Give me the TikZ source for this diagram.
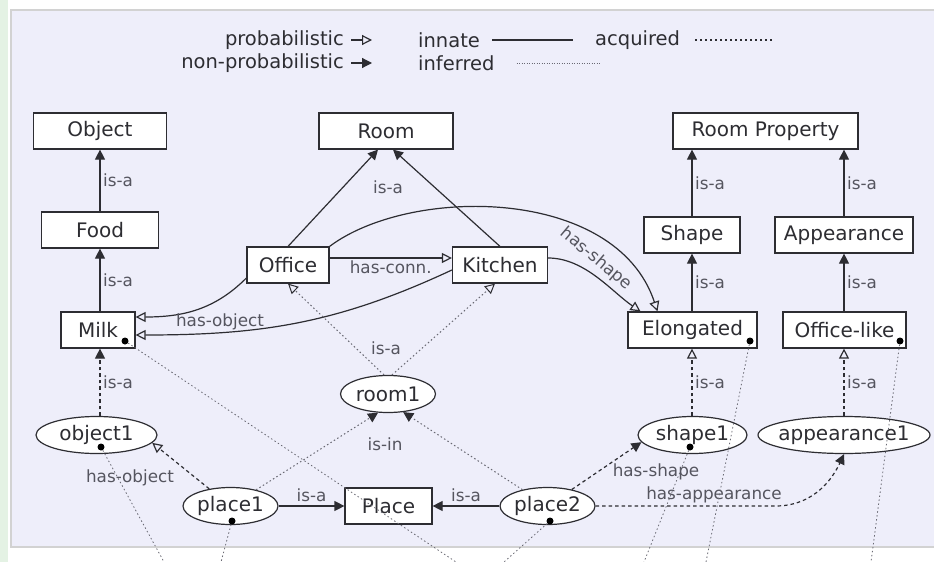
\documentclass[tikz,border=0pt]{standalone}
\usepackage{fontspec}
\setmainfont{DejaVu Sans}
\usetikzlibrary{arrows.meta,shapes.geometric}
\definecolor{panel}{RGB}{238,238,250}
\definecolor{strip}{RGB}{228,242,228}
\definecolor{ink}{RGB}{45,45,50}
\definecolor{lblc}{RGB}{85,85,95}
\definecolor{pinc}{RGB}{105,105,115}
\pgfdeclarelayer{panel}
\pgfsetlayers{panel,main}
\newcommand{\zw}[1]{\makebox[0pt]{#1}}
\begin{document}
\begin{tikzpicture}[x=1pt,y=-1pt,
  every node/.style={text=ink},
  nodefont/.style={font=\fontsize{20}{24}\selectfont},
  box/.style={draw=ink, line width=1.2pt, fill=white, minimum height=36pt, inner sep=0pt, nodefont},
  ell/.style={ellipse, draw=ink, line width=1.2pt, fill=white, minimum height=37pt, inner sep=0pt, nodefont},
  lbl/.style={font=\fontsize{16.8}{20}\selectfont, text=lblc, inner sep=1.5pt},
  leg/.style={font=\fontsize{19.5}{23}\selectfont, inner sep=0pt},
  edge/.style={draw=ink, line width=1.2pt},
  fil/.style={-{Triangle[length=10pt,width=10pt,color=ink]}},
  hol/.style={-{Triangle[open,length=10pt,width=10pt,color=ink]}},
  innate/.style={edge},
  acquired/.style={edge, dash pattern=on 3.5pt off 3pt},
  inferred/.style={draw=pinc, line width=1pt, dash pattern=on 1.5pt off 2.5pt},
  legacq/.style={draw=ink, line width=1.2pt, dash pattern=on 2pt off 3pt},
  leginf/.style={draw=pinc, line width=0.8pt, dash pattern=on 1pt off 1.5pt},
  pinline/.style={draw=pinc, line width=0.8pt, dash pattern=on 1.5pt off 2.5pt},
  pindot/.style={circle, fill=black, inner sep=0pt, minimum size=7pt},
]
\useasboundingbox (0,0) rectangle (934,562);
\begin{pgfonlayer}{panel}
  \fill[white] (0,0) rectangle (934,562);
  \fill[strip] (0,0) rectangle (8,562);
  \draw[draw=gray!35, fill=panel, line width=1.5pt] (11,10) rectangle (940,547);
\end{pgfonlayer}

% legend
\node[leg, anchor=east] (lprob) at (344,40) {probabilistic};
\node[leg, anchor=east] (lnonprob) at (344,63) {non-probabilistic};
\node[leg, anchor=west] (linnate) at (418,40) {innate};
\node[leg, anchor=west] (linf) at (418,63) {inferred};
\node[leg, anchor=west] (lacq) at (595,40) {acquired};
\draw[innate,hol] ([xshift=7pt]lprob.east) -- ++(21pt,0);
\draw[innate,fil] ([xshift=7pt]lnonprob.east) -- ++(21pt,0);
\draw[innate] ([xshift=12pt]linnate.east) -- ++(81pt,0);
\draw[leginf] ([xshift=22pt]linf.east) -- ++(83pt,0);
\draw[legacq] ([xshift=15pt]lacq.east) -- ++(79pt,0);

% class nodes
\node[box, minimum width=133pt] (object) at (100,131) {Object};
\node[box, minimum width=117pt] (food) at (100,230) {Food};
\node[box, minimum width=74pt] (milk) at (98,330) {Milk};
\node[box, minimum width=134pt] (room) at (386,131) {Room};
\node[box, minimum width=82pt] (office) at (288,265) {Office};
\node[box, minimum width=95pt] (kitchen) at (500,265) {Kitchen};
\node[box, minimum width=185pt] (roomprop) at (765.5,131) {Room Property};
\node[box, minimum width=96pt] (shape) at (692,235) {Shape};
\node[box, minimum width=138pt] (appearance) at (844,235) {Appearance};
\node[box, minimum width=129pt] (elongated) at (692.5,330) {Elongated};
\node[box, minimum width=123pt] (officelike) at (844.5,330) {Office-like};
\node[box, minimum width=87pt] (place) at (388.5,506) {Place};

% instance nodes
\node[ell, minimum width=95pt] (room1) at (388,394) {\zw{room1}};
\node[ell, minimum width=121pt] (object1) at (96.5,435) {\zw{object1}};
\node[ell, minimum width=95pt] (place1) at (230.5,506) {\zw{place1}};
\node[ell, minimum width=95pt] (place2) at (547.5,506) {\zw{place2}};
\node[ell, minimum width=109pt] (shape1) at (692.5,435) {\zw{shape1}};
\node[ell, minimum width=172pt] (appearance1) at (844,435) {\zw{appearance1}};

% innate is-a
\draw[innate,fil] (food) -- (object) node[lbl,midway,right=1pt]{is-a};
\draw[innate,fil] (milk.north -| food.south) -- (food.south) node[lbl,midway,right=1pt]{is-a};
\draw[innate,fil] (office.north) -- ([xshift=-8pt]room.south);
\draw[innate,fil] (kitchen.north) -- ([xshift=7pt]room.south);
\node[lbl] (lroom) at (388,187) {is-a};
\draw[innate,fil] (shape.north) -- (shape.north |- roomprop.south) node[lbl,midway,right=1pt]{is-a};
\draw[innate,fil] (appearance.north) -- (appearance.north |- roomprop.south) node[lbl,midway,right=1pt]{is-a};
\draw[innate,fil] (elongated.north -| shape.south) -- (shape.south) node[lbl,midway,right=1pt]{is-a};
\draw[innate,fil] (officelike.north -| appearance.south) -- (appearance.south) node[lbl,midway,right=1pt]{is-a};

% innate relations
\draw[innate,hol] ([yshift=7pt]office.east) -- ([yshift=7pt]kitchen.west) node[lbl,midway,below=1pt]{has-conn.};
\draw[innate,hol] ([yshift=-13pt]office.west) to[out=-135,in=0] ([yshift=13pt]milk.east);
\draw[innate,hol] ([yshift=-5pt]kitchen.west) to[out=205,in=0] ([yshift=-5pt]milk.east);
\node[lbl] (lhasobj1) at (220,322) {has-object};
\draw[innate,hol] (office.north east) .. controls (410,186) and (616,186) .. ([xshift=-35pt]elongated.north);
\draw[innate,hol] ([yshift=7pt]kitchen.east) .. controls (585,258) and (612,292) .. ([xshift=-52pt]elongated.north);
\node[lbl, rotate=-40, inner sep=0pt] (lhasshape1) at (596,259) {has-shape};

% inferred
\draw[inferred,hol] ([xshift=-4pt]room1.north) -- (office.south);
\draw[inferred,hol] ([xshift=4pt]room1.north) -- ([xshift=-5pt]kitchen.south);
\node[lbl] (lisa1) at (386,348) {is-a};
\draw[inferred,fil] (place1) -- (room1.-118);
\draw[inferred,fil] (place2) -- (room1.-50);
\node[lbl] (lisin) at (385,444) {is-in};

% acquired
\draw[acquired,fil] (object1.north -| food.south) -- (milk.south -| food.south) node[lbl,midway,right=1pt]{is-a};
\draw[acquired,hol] (shape1.north -| shape.south) -- (elongated.south -| shape.south) node[lbl,midway,right=1pt]{is-a};
\draw[acquired,hol] (appearance1.north -| appearance.south) -- (officelike.south -| appearance.south) node[lbl,midway,right=1pt]{is-a};
\draw[acquired,hol] (place1) -- (object1.-8);
\node[lbl] (lhasobj2) at (130,478) {has-object};
\draw[acquired,fil] (place2) -- (shape1.-172);
\node[lbl] (lhasshape2) at (656,472) {has-shape};
\draw[acquired,fil] (place2.east) -- ++(180pt,0) to[out=0,in=-115] (appearance1.south);
\node[lbl] (lhasapp) at (714,495) {has-appearance};

% innate instance is-a
\draw[innate,fil] (place1) -- (place) node[lbl,midway,above=2pt]{is-a};
\draw[innate,fil] (place2) -- (place) node[lbl,midway,above=2pt]{is-a};

% pin dots and lines
\node[pindot] (dmilk) at (125,341) {};
\node[pindot] (delong) at (750,341) {};
\node[pindot] (doffl) at (900,341) {};
\node[pindot] (dobj1) at (101,447) {};
\node[pindot] (dpl1) at (232,521) {};
\node[pindot] (dpl2) at (550,521) {};
\node[pindot] (dsh1) at (690,447) {};
\coordinate (bobj1) at (164,562);
\coordinate (bpl1) at (221,562);
\coordinate (bmilk) at (456,562);
\coordinate (bpl2) at (504,562);
\coordinate (bsh1) at (644,562);
\coordinate (belong) at (706,562);
\coordinate (boffl) at (871,562);
\draw[pinline] (dobj1) -- (bobj1);
\draw[pinline] (dpl1) -- (bpl1);
\draw[pinline] (dmilk) -- (bmilk);
\draw[pinline] (dpl2) -- (bpl2);
\draw[pinline] (dsh1) -- (bsh1);
\draw[pinline] (delong) -- (belong);
\draw[pinline] (doffl) -- (boffl);
\end{tikzpicture}
\end{document}
